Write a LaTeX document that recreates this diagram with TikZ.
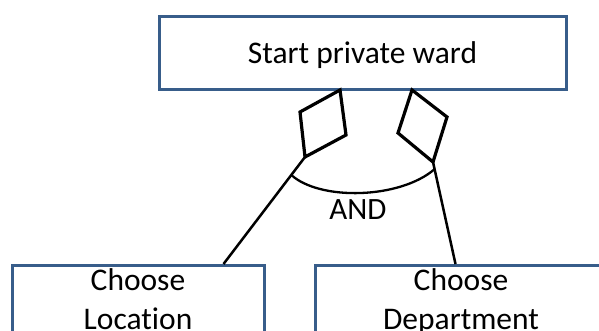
\documentclass[tikz,border=0pt]{standalone}
\usepackage{fontspec}
\setmainfont{Carlito}[Ligatures=NoCommon]
\usetikzlibrary{calc}
\definecolor{boxblue}{RGB}{56,93,138}
\tikzset{
  box/.style={draw=boxblue, line width=3pt, fill=white, rectangle,
    inner xsep=0pt, inner ysep=0pt, align=center,
    font=\fontsize{31.5}{39}\selectfont},
  gate/.style={draw=black, line width=3.2pt, line join=miter},
  link/.style={draw=black, line width=2.5pt},
  arcline/.style={draw=black, line width=2.3pt},
  lbl/.style={font=\fontsize{31}{36}\selectfont, inner sep=0pt}
}
\begin{document}
\begin{tikzpicture}[x=1pt, y=-1pt]
  \useasboundingbox (0,0) rectangle (599,331);
  \clip (0,0) rectangle (599,331);

  % parent task
  \node[box, anchor=north, minimum width=407pt, text height=47pt, text depth=26pt]
    (ward) at (362.5,15) {Start private ward};

  % child tasks (cut off at the bottom edge); the baseline of a
  % two-line node is that of its last line
  \node[box, anchor=north, minimum width=252pt, text height=64pt, text depth=36pt]
    (loc) at (138,264) {Choose\\Location};
  \node[box, anchor=north, minimum width=292pt, text height=64pt, text depth=36pt]
    (dep) at (461,264) {Choose\\Department};

  % diamonds marking the decomposition
  \coordinate (ldT) at (340,90);
  \coordinate (ldR) at (346,135);
  \coordinate (ldB) at (305,157);
  \coordinate (ldL) at (300,112);
  \coordinate (rdT) at (412,90);
  \coordinate (rdR) at (447,117);
  \coordinate (rdB) at (433,162);
  \coordinate (rdL) at (398,133);
  \draw[gate] (ldT) -- (ldR) -- (ldB) -- (ldL) -- cycle;
  \draw[gate] (rdT) -- (rdR) -- (rdB) -- (rdL) -- cycle;

  % links down to the child tasks
  \coordinate (locIn) at ($(loc.north west)+(213,0)$);
  \coordinate (depIn) at ($(dep.north west)+(142,0)$);
  \draw[link] (ldB) -- (locIn);
  \draw[link] (rdB) -- (depIn);

  % AND arc joining the two links
  \coordinate (arcL) at ($(ldB)!0.168!(locIn)$);
  \coordinate (arcR) at ($(rdB)!0.07!(depIn)$);
  \draw[arcline] (arcL) .. controls (320,201) and (400,199) .. (arcR);
  \node[lbl, anchor=base] (and) at (358,219) {AND};
\end{tikzpicture}
\end{document}
